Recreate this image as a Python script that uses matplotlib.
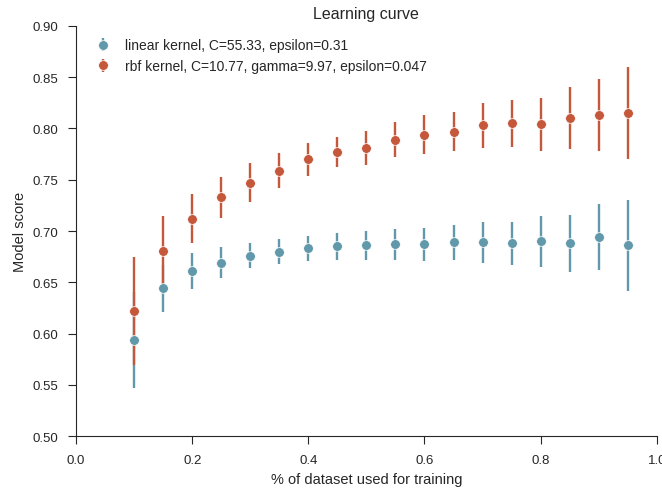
import numpy as np
import matplotlib
matplotlib.use("Agg")
import matplotlib.pyplot as plt
import seaborn as sns

sns.set_style("ticks")
plt.rcParams["font.family"] = ["Liberation Sans", "DejaVu Sans"]

# fraction of dataset used for training
train_frac = [0.10, 0.15, 0.20, 0.25, 0.30, 0.35, 0.40, 0.45, 0.50,
              0.55, 0.60, 0.65, 0.70, 0.75, 0.80, 0.85, 0.90, 0.95]

linear_mean = [0.594, 0.644, 0.661, 0.669, 0.676, 0.680, 0.683, 0.685, 0.686,
               0.687, 0.687, 0.689, 0.689, 0.688, 0.690, 0.688, 0.694, 0.686]
linear_err = [0.047, 0.023, 0.018, 0.015, 0.012, 0.012, 0.012, 0.013, 0.014,
              0.015, 0.016, 0.017, 0.020, 0.021, 0.025, 0.028, 0.032, 0.044]

rbf_mean = [0.622, 0.681, 0.712, 0.733, 0.747, 0.759, 0.770, 0.777, 0.781,
            0.789, 0.794, 0.797, 0.803, 0.805, 0.804, 0.810, 0.813, 0.815]
rbf_err = [0.053, 0.034, 0.024, 0.020, 0.019, 0.017, 0.016, 0.015, 0.017,
           0.017, 0.019, 0.019, 0.022, 0.023, 0.026, 0.030, 0.035, 0.045]

linear_label = "linear kernel, C=55.33, epsilon=0.31"
rbf_label = "rbf kernel, C=10.77, gamma=9.97, epsilon=0.047"

BLUE = "#6199ab"
RED = "#c5573a"

fig = plt.figure(figsize=(6.62, 4.89), dpi=100)
ax = fig.add_axes([0.115, 0.106, 0.877, 0.839])

ax.errorbar(train_frac, linear_mean, yerr=linear_err, fmt="o", color=BLUE,
            ms=7, elinewidth=1.7, mec="white", mew=0.5, label=linear_label)
ax.errorbar(train_frac, rbf_mean, yerr=rbf_err, fmt="o", color=RED,
            ms=7, elinewidth=1.7, mec="white", mew=0.5, label=rbf_label)

ax.set_xlim(0, 1.0)
ax.set_ylim(0.5, 0.9)
ax.set_xticks([0.0, 0.2, 0.4, 0.6, 0.8, 1.0])
ax.set_yticks(np.arange(0.50, 0.91, 0.05))
ax.set_yticklabels([f"{v:.2f}" for v in np.arange(0.50, 0.91, 0.05)])
ax.tick_params(labelsize=9.5, colors="#262626", length=6, pad=7)
ax.set_xlabel("% of dataset used for training", fontsize=10.5)
ax.set_ylabel("Model score", fontsize=10.5)
ax.set_title("Learning curve", fontsize=11.5)
ax.legend(loc="upper left", frameon=False, fontsize=10, handletextpad=0.6)
sns.despine(ax=ax)

fig.savefig("out.png", dpi=100)
